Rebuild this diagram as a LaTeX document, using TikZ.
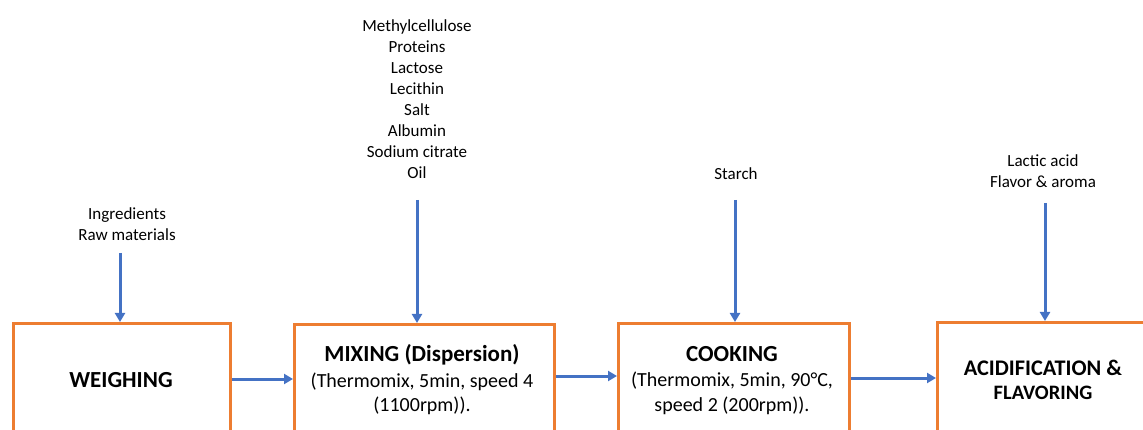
\documentclass[tikz,border=0pt]{standalone}
\usepackage{fontspec}
\setmainfont{Carlito}
\usetikzlibrary{arrows.meta}
\definecolor{boxorange}{RGB}{237,125,49}
\definecolor{arrblue}{RGB}{68,114,196}
\begin{document}
\begin{tikzpicture}[x=1pt,y=-1pt,
  stepbox/.style={draw=boxorange,line width=3.2pt,rectangle,inner sep=0pt,anchor=north west},
  arr/.style={draw=arrblue,line width=3pt,-{Triangle[length=9pt,width=10pt]}},
  small/.style={font=\fontsize{17}{21}\selectfont,align=center,inner sep=0pt},
  title/.style={font=\bfseries\fontsize{23}{28}\selectfont,inner sep=0pt},
  sub/.style={font=\fontsize{20}{24.5}\selectfont,align=center,inner sep=0pt}]
\useasboundingbox (0,0) rectangle (1143,430);
\clip (0,0) rectangle (1143,430);
% boxes
\node[stepbox,minimum width=217pt,minimum height=150pt] (w) at (12,322) {};
\node[stepbox,minimum width=260pt,minimum height=150pt] (m) at (293,323) {};
\node[stepbox,minimum width=231pt,minimum height=150pt] (c) at (617,322) {};
\node[stepbox,minimum width=240pt,minimum height=150pt] (a) at (936,321) {};
% box texts
\node[title] (wt) at (121,380) {WEIGHING};
\node[title] (mt) at (422,355) {MIXING (Dispersion)};
\node[sub] (ms) at (422,394) {(Thermomix, 5min, speed 4\\(1100rpm)).};
\node[title] (ct) at (732,354) {COOKING};
\node[sub] (cs) at (732,393.5) {(Thermomix, 5min, 90°C,\\speed 2 (200rpm)).};
\node[title,font=\bfseries\fontsize{22.3}{26}\selectfont] (at1) at (1043,368) {ACIDIFICATION \&};
\node[title,font=\bfseries\fontsize{20.5}{24}\selectfont] (at2) at (1043,393) {FLAVORING};
% inputs
\node[small] (iw) at (127,224) {Ingredients\\Raw materials};
\node[small] (im) at (417,99) {Methylcellulose\\Proteins\\Lactose\\Lecithin\\Salt\\Albumin\\Sodium citrate\\Oil};
\node[small] (ic) at (736,174) {Starch};
\node[small] (ia) at (1043,171.5) {Lactic acid\\Flavor \& aroma};
% arrow starts
\coordinate (sw) at (120,253);
\coordinate (sm) at (417,200);
\coordinate (sc) at (735,200);
\coordinate (sa) at (1045,203);
\draw[arr] (sw) -- (sw |- w.north);
\draw[arr] (sm) -- (sm |- m.north);
\draw[arr] (sc) -- (sc |- c.north);
\draw[arr] (sa) -- (sa |- a.north);
% process arrows
\draw[arr] (w.east |- 0,379) -- (m.west |- 0,379);
\draw[arr] (m.east |- 0,376) -- (c.west |- 0,376);
\draw[arr] (c.east |- 0,378) -- (a.west |- 0,378);
\end{tikzpicture}
\end{document}
